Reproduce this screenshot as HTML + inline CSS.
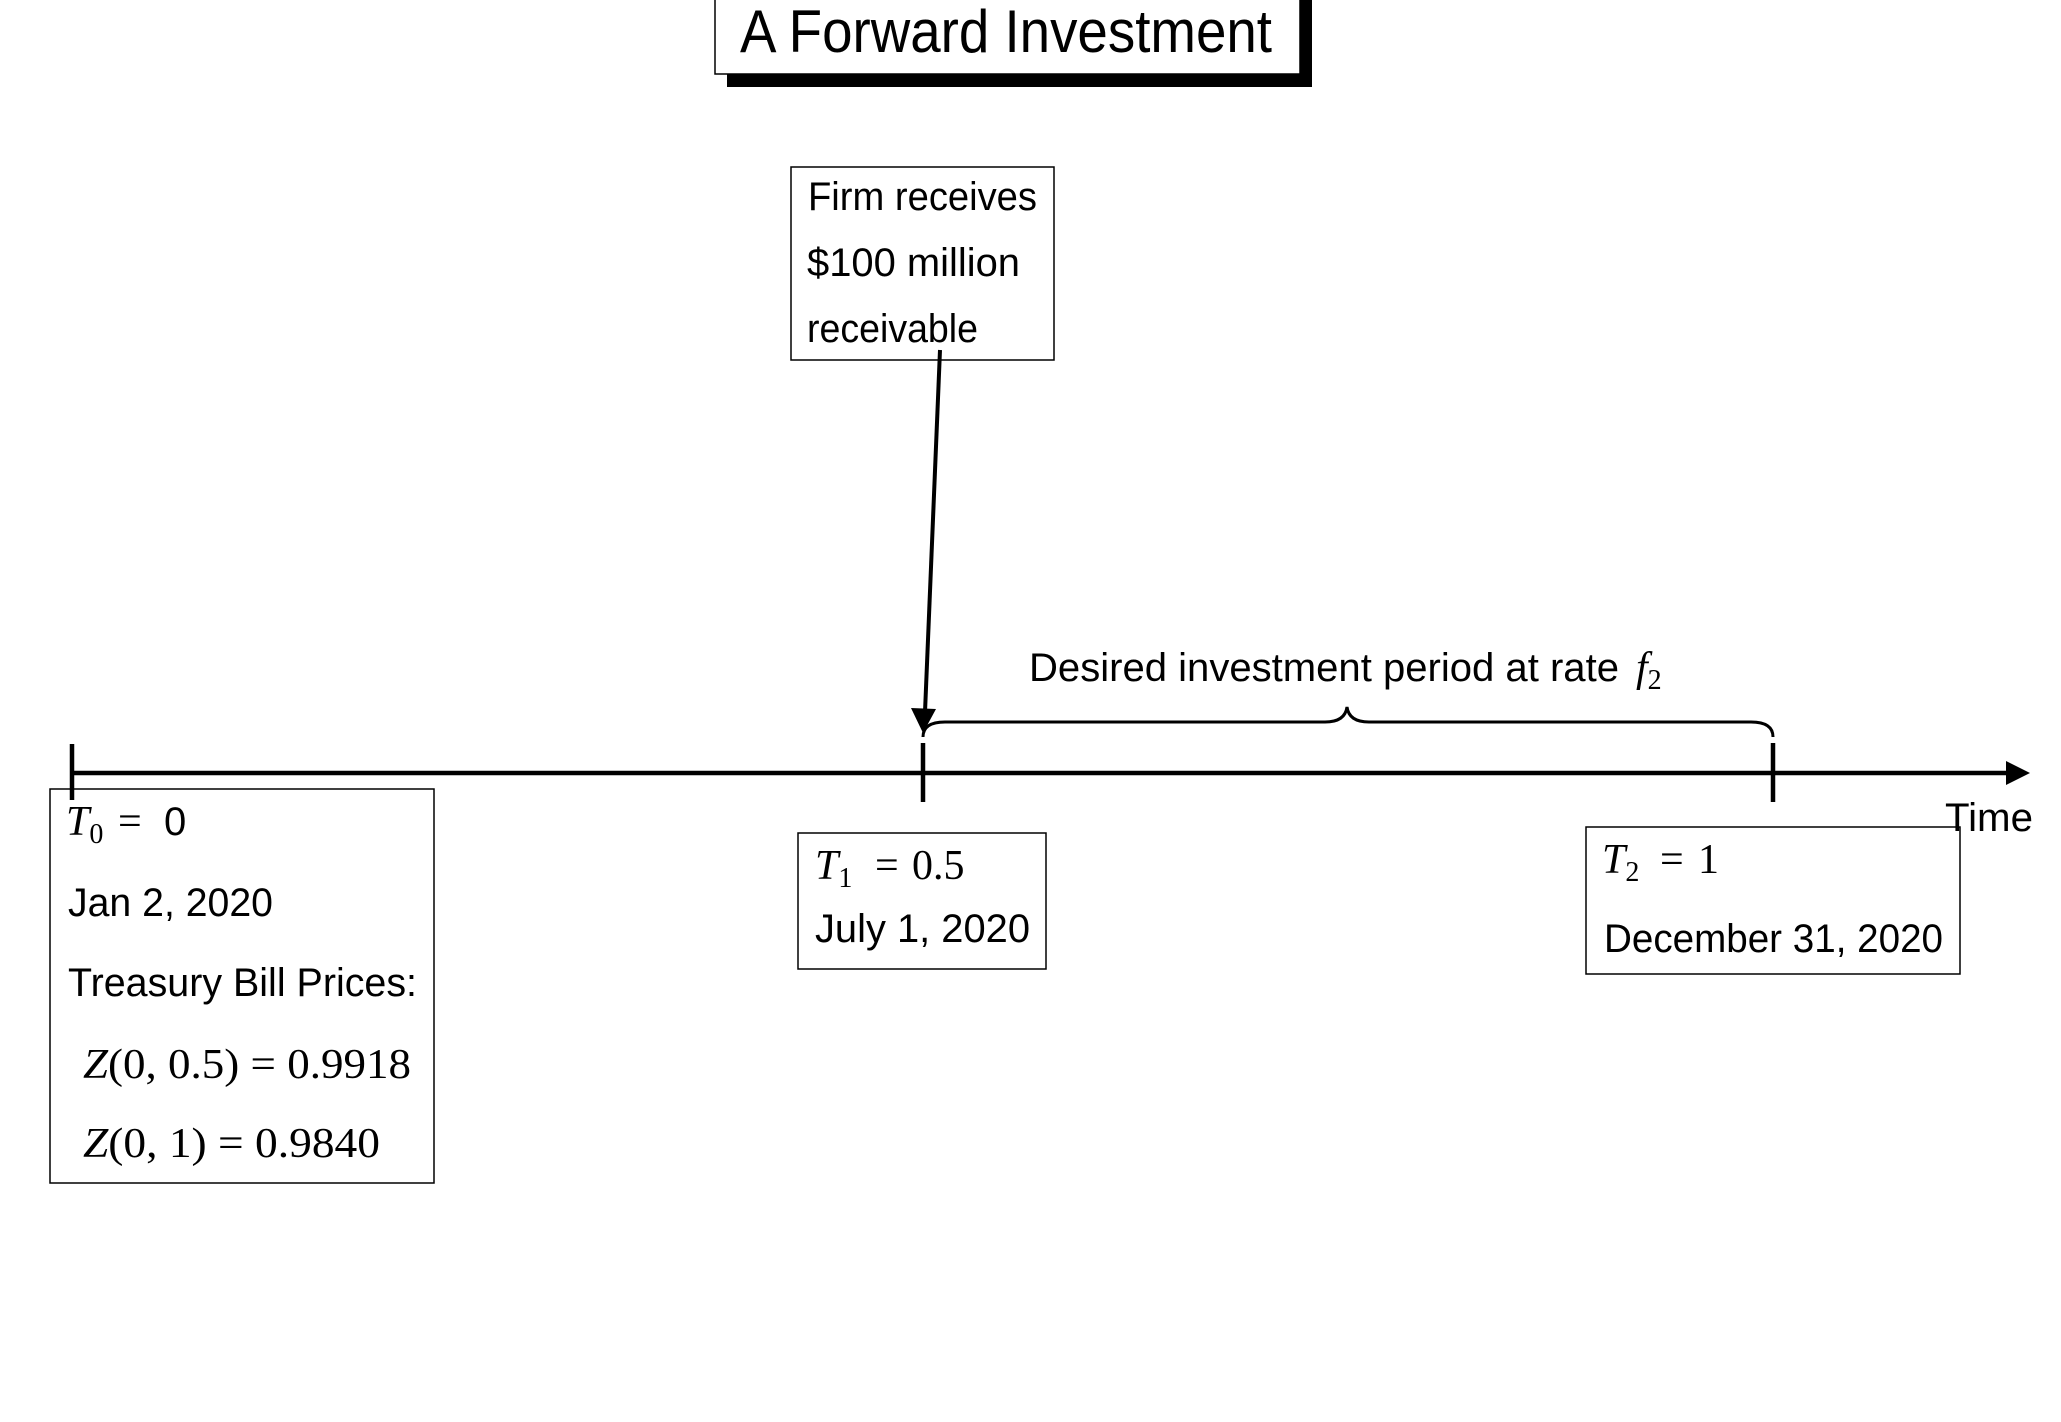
<!DOCTYPE html>
<html><head><meta charset="utf-8"><style>
html,body{margin:0;padding:0;background:#fff}
svg{display:block}
.s{font-family:"Liberation Sans",sans-serif;font-size:40px;fill:#000}
.m{font-family:"Liberation Serif",serif;font-size:42px;fill:#000}
</style></head><body>
<svg width="2061" height="1422" viewBox="0 0 2061 1422" xmlns="http://www.w3.org/2000/svg">
<rect x="0" y="0" width="2061" height="1422" fill="#fff"/>
<rect x="727" y="-5" width="585" height="92" fill="#000"/>
<rect x="715" y="-10" width="585" height="84" fill="#fff" stroke="#000" stroke-width="1.5"/>
<text class="s" x="740" y="52" style="font-size:60px" textLength="532" lengthAdjust="spacingAndGlyphs">A Forward Investment</text>
<rect x="791" y="167" width="263" height="193" fill="#fff" stroke="#000" stroke-width="1.5"/>
<text class="s" x="808" y="210" textLength="229" lengthAdjust="spacingAndGlyphs">Firm receives</text>
<text class="s" x="807" y="276" textLength="213" lengthAdjust="spacingAndGlyphs">$100 million</text>
<text class="s" x="807" y="342" textLength="171" lengthAdjust="spacingAndGlyphs">receivable</text>
<line x1="940" y1="350" x2="925" y2="712" stroke="#000" stroke-width="4"/>
<polygon points="923,733 911,708 936,709" fill="#000"/>
<line x1="72" y1="773" x2="2010" y2="773" stroke="#000" stroke-width="4.5"/>
<polygon points="2030,773 2006,761 2006,785" fill="#000"/>
<line x1="72" y1="744" x2="72" y2="800" stroke="#000" stroke-width="4.5"/>
<line x1="923" y1="743" x2="923" y2="802" stroke="#000" stroke-width="4.5"/>
<line x1="1773" y1="743" x2="1773" y2="802" stroke="#000" stroke-width="4.5"/>
<path d="M923,737 Q923,722 945,722 L1325,722 Q1345,722 1347,707 Q1349,722 1369,722 L1751,722 Q1773,722 1773,737" fill="none" stroke="#000" stroke-width="3"/>
<text class="s" x="1029" y="681" textLength="590" lengthAdjust="spacingAndGlyphs">Desired investment period at rate</text>
<text class="m" x="1636" y="681" font-style="italic">f<tspan font-size="28" dy="8" font-style="normal">2</tspan></text>
<text class="s" x="1945" y="831" textLength="88" lengthAdjust="spacingAndGlyphs">Time</text>
<rect x="50" y="789" width="384" height="394" fill="none" stroke="#000" stroke-width="1.5"/>
<text class="m" x="66" y="835"><tspan font-style="italic">T</tspan><tspan font-size="28" dy="8">0</tspan><tspan dy="-8" x="118">=</tspan></text>
<text class="s" x="164" y="835">0</text>
<text class="s" x="68" y="916" textLength="205" lengthAdjust="spacingAndGlyphs">Jan 2, 2020</text>
<text class="s" x="68" y="996" textLength="349" lengthAdjust="spacingAndGlyphs">Treasury Bill Prices:</text>
<text class="m" x="83" y="1078" textLength="328" lengthAdjust="spacingAndGlyphs"><tspan font-style="italic">Z</tspan>(0, 0.5) = 0.9918</text>
<text class="m" x="83" y="1157" textLength="297" lengthAdjust="spacingAndGlyphs"><tspan font-style="italic">Z</tspan>(0, 1) = 0.9840</text>
<rect x="798" y="833" width="248" height="136" fill="#fff" stroke="#000" stroke-width="1.5"/>
<text class="m" x="815" y="879"><tspan font-style="italic">T</tspan><tspan font-size="28" dy="8">1</tspan><tspan dy="-8" x="875">=</tspan><tspan x="912">0.5</tspan></text>
<text class="s" x="815" y="942" textLength="215" lengthAdjust="spacingAndGlyphs">July 1, 2020</text>
<rect x="1586" y="827" width="374" height="147" fill="none" stroke="#000" stroke-width="1.5"/>
<text class="m" x="1602" y="873"><tspan font-style="italic">T</tspan><tspan font-size="28" dy="8">2</tspan><tspan dy="-8" x="1660">=</tspan><tspan x="1698">1</tspan></text>
<text class="s" x="1604" y="952" textLength="339" lengthAdjust="spacingAndGlyphs">December 31, 2020</text>
</svg>
</body></html>
